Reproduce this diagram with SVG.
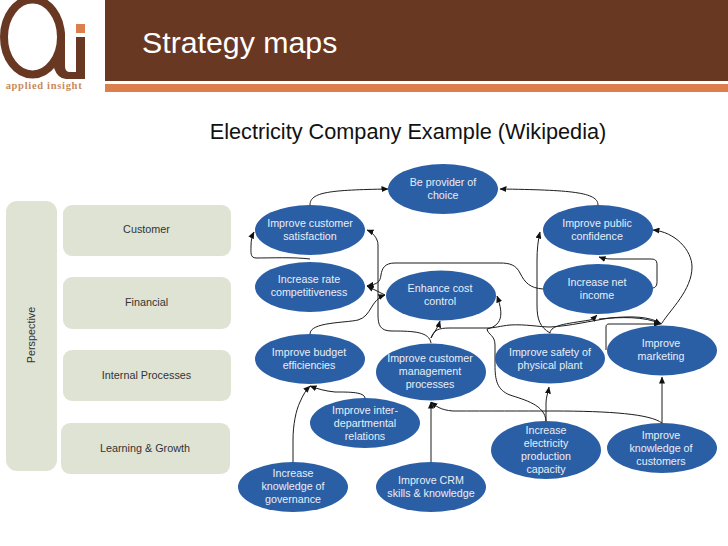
<svg xmlns="http://www.w3.org/2000/svg" width="728" height="546" viewBox="0 0 728 546">
<style>
.n{fill:#2a5fa6}
.p{fill:#dfe3d4}
.nt{font:10.7px "Liberation Sans",Arial,sans-serif;fill:#e8eef6;text-anchor:middle}
.pt{font:10.8px "Liberation Sans",Arial,sans-serif;fill:#333;text-anchor:middle}
.c{fill:none;stroke:#1c1c1c;stroke-width:1;marker-end:url(#a)}
.l{fill:none;stroke:#1c1c1c;stroke-width:1}
</style>
<defs><marker id="a" markerUnits="userSpaceOnUse" markerWidth="7" markerHeight="6" refX="6.500" refY="3" orient="auto"><path d="M0 0L7 3L0 6Z" fill="#111"/></marker></defs>
<rect width="728" height="546" fill="#fff"/>
<g id="header">
<rect x="105" y="0" width="623" height="81" fill="#693822"/>
<rect x="105" y="84" width="623" height="8" fill="#dd7f4c"/>
<text x="142" y="53" font-family="'Liberation Sans',Arial,sans-serif" font-size="30.300" fill="#fff">Strategy maps</text>
</g>
<g id="logo">
<ellipse cx="32.500" cy="37" rx="28.500" ry="37.500" fill="none" stroke="#693822" stroke-width="8"/>
<path d="M65 30V66Q65 72 70 72H76V37H85V79H66Q58 79 54 68Z" fill="#693822"/>
<rect x="76" y="24" width="9" height="9" fill="#dd7f4c"/>
<text x="44" y="89" font-family="'Liberation Serif',serif" font-weight="bold" font-size="10.500" letter-spacing=".7" fill="#c98a5c" text-anchor="middle">applied insight</text>
</g>
<text x="408" y="139" font-family="'Liberation Sans',Arial,sans-serif" font-size="21.700" fill="#111" text-anchor="middle">Electricity Company Example (Wikipedia)</text>
<g id="p-perspective"><rect class="p" x="6" y="201" width="51" height="270" rx="11"/><text class="pt" transform="translate(35 335) rotate(-90)">Perspective</text></g>
<g id="p-customer"><rect class="p" x="63" y="205" width="168" height="51" rx="9"/><text class="pt" x="146.500" y="233">Customer</text></g>
<g id="p-financial"><rect class="p" x="63" y="277" width="168" height="52" rx="9"/><text class="pt" x="146.500" y="306">Financial</text></g>
<g id="p-internal"><rect class="p" x="63" y="350" width="168" height="51" rx="9"/><text class="pt" x="146.500" y="379">Internal Processes</text></g>
<g id="p-learning"><rect class="p" x="61" y="423" width="169" height="51" rx="9"/><text class="pt" x="145" y="452">Learning &amp; Growth</text></g>
<g id="connectors">
<path class="c" d="M310 205C310 192 330 190 388 189"/>
<path class="c" d="M598 205C598 192 570 190 500 189"/>
<path class="c" d="M310 259C295 257 270 258 256 258C250 258 251 252 251 246C251 240 252 236 254 232"/>
<path class="c" d="M431 343C429 332 415 331 392 331C380 331 378 325 378 315V245C378 238 372 232 367 230"/>
<path class="c" d="M543 289C530 288 525 283 520 273C516 265 510 263 500 263H395C385 263 382 268 381 275C380 282 378 284 367 286"/>
<path class="c" d="M385 295L367 286"/>
<path class="c" d="M310 334C310 322 345 323 358 320C372 316 370 300 385 295"/>
<path class="c" d="M431 338C434 332 438 328 440 321"/>
<path class="l" d="M431 338C434 330 438 328 450 328H487C495 328 500 326 510 325C525 324 540 327 550 327C570 326 590 321 610 318C630 316 650 316 662 324"/>
<path class="c" d="M599 319C620 317 645 316 661 324"/>
<path class="c" d="M546 421C545 405 525 400 510 395C497 390 495 380 495 365V345C495 335 488 335 487 329C505 325 502 310 497 296"/>
<path class="c" d="M550 333C540 327 537 320 537 305V260C537 250 538 240 540 232"/>
<path class="c" d="M550 333C551 325 565 324 590 320C593 319 595 317 597 315"/>
<path class="c" d="M662 323C670 310 692 290 692 267C692 250 675 232 653 230"/>
<path class="c" d="M653 288C657 287 657 284 657 280V265C657 260 655 259 650 259H612C606 259 602 258 599 257"/>
<path class="c" d="M606 350V327C606 325 607 324 609 324H660" stroke-width="1.500"/>
<path class="c" d="M546 421V403C546 397 548 393 549 387"/>
<path class="c" d="M662 423C650 414 610 411 553 411C520 411 490 411 453 411C440 410 436 406 431 402"/>
<path class="c" d="M431 464V402"/>
<path class="c" d="M293 462V440C293 425 296 410 300 402C303 395 306 390 310 386"/>
<path class="c" d="M365 398C364 392 350 392 335 392C325 391 318 389 310 386"/>
<path class="c" d="M662 423V377"/>
</g>
<g id="n-choice"><ellipse class="n" cx="443" cy="189" rx="55" ry="25"/><text class="nt" x="443" y="186">Be provider of</text><text class="nt" x="443" y="199">choice</text></g>
<g id="n-satisfaction"><ellipse class="n" cx="310" cy="230" rx="55" ry="25"/><text class="nt" x="310" y="227">Improve customer</text><text class="nt" x="310" y="240">satisfaction</text></g>
<g id="n-confidence"><ellipse class="n" cx="598" cy="230" rx="55" ry="25"/><text class="nt" x="597" y="227">Improve public</text><text class="nt" x="597" y="240">confidence</text></g>
<g id="n-rate"><ellipse class="n" cx="310" cy="287" rx="55" ry="25"/><text class="nt" x="309" y="283">Increase rate</text><text class="nt" x="309" y="296">competitiveness</text></g>
<g id="n-cost"><ellipse class="n" cx="441" cy="295.500" rx="55" ry="25"/><text class="nt" x="440" y="292">Enhance cost</text><text class="nt" x="440" y="305">control</text></g>
<g id="n-income"><ellipse class="n" cx="598" cy="289" rx="55" ry="25"/><text class="nt" x="597" y="286">Increase net</text><text class="nt" x="597" y="299">income</text></g>
<g id="n-budget"><ellipse class="n" cx="310" cy="359" rx="55" ry="25"/><text class="nt" x="309" y="356">Improve budget</text><text class="nt" x="309" y="369">efficiencies</text></g>
<g id="n-processes"><ellipse class="n" cx="431" cy="372" rx="55" ry="28.500"/><text class="nt" x="430" y="362">Improve customer</text><text class="nt" x="430" y="375">management</text><text class="nt" x="430" y="388">processes</text></g>
<g id="n-safety"><ellipse class="n" cx="550" cy="358.500" rx="55" ry="25"/><text class="nt" x="550" y="356">Improve safety of</text><text class="nt" x="550" y="369">physical plant</text></g>
<g id="n-marketing"><ellipse class="n" cx="662" cy="350.500" rx="55" ry="25"/><text class="nt" x="661" y="347">Improve</text><text class="nt" x="661" y="360">marketing</text></g>
<g id="n-inter"><ellipse class="n" cx="365" cy="423" rx="55" ry="25"/><text class="nt" x="365" y="414">Improve inter-</text><text class="nt" x="365" y="427">departmental</text><text class="nt" x="365" y="440">relations</text></g>
<g id="n-capacity"><ellipse class="n" cx="546" cy="450" rx="55" ry="29"/><text class="nt" x="546" y="434">Increase</text><text class="nt" x="546" y="447">electricity</text><text class="nt" x="546" y="460">production</text><text class="nt" x="546" y="473">capacity</text></g>
<g id="n-customers"><ellipse class="n" cx="662" cy="448" rx="55" ry="25"/><text class="nt" x="661" y="439">Improve</text><text class="nt" x="661" y="452">knowledge of</text><text class="nt" x="661" y="465">customers</text></g>
<g id="n-governance"><ellipse class="n" cx="293" cy="487" rx="55" ry="25"/><text class="nt" x="293" y="477">Increase</text><text class="nt" x="293" y="490">knowledge of</text><text class="nt" x="293" y="503">governance</text></g>
<g id="n-crm"><ellipse class="n" cx="431" cy="487" rx="55" ry="25"/><text class="nt" x="431" y="484">Improve CRM</text><text class="nt" x="431" y="497">skills &amp; knowledge</text></g>
</svg>
